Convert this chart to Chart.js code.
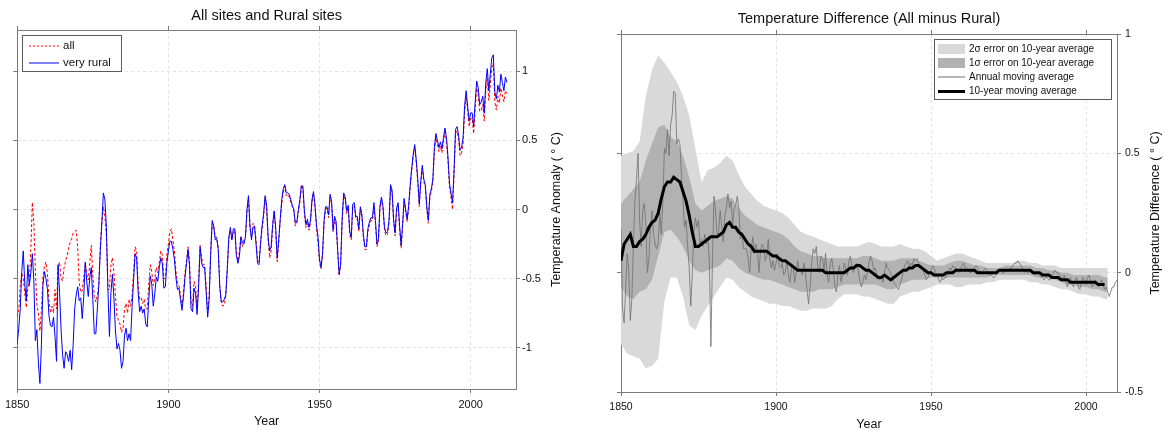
<!DOCTYPE html>
<html><head><meta charset="utf-8">
<script src="https://cdn.jsdelivr.net/npm/chart.js@4.4.0/dist/chart.umd.min.js"></script>
<style>
html,body{margin:0;padding:0;background:#fff;width:1165px;height:430px;overflow:hidden;}
#c1{position:absolute;left:0;top:0;}
#c2{position:absolute;left:580px;top:0;}
</style></head><body>
<canvas id="c1" width="580" height="430"></canvas>
<canvas id="c2" width="585" height="430"></canvas>
<script>
// ---------------- LEFT PANEL DATA (half-year samples from 1850.0) ----------------
const leftFirstYear = 1850;
const leftStep = 0.5;
const veryRuralValues = [
-0.97,-0.86,-0.72,-0.45,-0.30,-0.54,-0.66,-0.40,-0.55,-0.46,-0.32,-0.52,-0.95,-0.87,-1.11,-1.26,-0.98,-0.55,-0.45,-0.50,
-0.58,-0.77,-0.84,-0.85,-0.78,-0.92,-1.10,-0.40,-0.60,-0.87,-1.05,-1.15,-1.03,-1.05,-1.10,-1.02,-1.16,-0.98,-0.72,-0.62,
-0.56,-0.66,-0.64,-0.79,-0.63,-0.38,-0.52,-0.63,-0.49,-0.42,-0.65,-0.90,-0.90,-0.72,-0.54,-0.29,-0.09,0.12,0.07,-0.13,
-0.58,-0.92,-0.60,-0.47,-0.65,-0.88,-1.01,-0.97,-1.02,-1.15,-1.10,-0.91,-0.86,-0.95,-0.90,-0.95,-0.70,-0.51,-0.32,-0.35,
-0.60,-0.74,-0.70,-0.75,-0.72,-0.83,-0.85,-0.66,-0.48,-0.54,-0.70,-0.61,-0.49,-0.52,-0.42,-0.35,-0.39,-0.57,-0.56,-0.39,
-0.30,-0.23,-0.23,-0.29,-0.36,-0.49,-0.58,-0.57,-0.65,-0.73,-0.63,-0.49,-0.39,-0.29,-0.41,-0.72,-0.74,-0.57,-0.61,-0.76,
-0.56,-0.27,-0.39,-0.42,-0.42,-0.60,-0.78,-0.65,-0.32,-0.08,-0.12,-0.22,-0.21,-0.29,-0.56,-0.67,-0.67,-0.65,-0.62,-0.42,
-0.20,-0.13,-0.22,-0.14,-0.14,-0.33,-0.39,-0.34,-0.20,-0.24,-0.25,-0.20,0.00,0.10,-0.12,-0.22,-0.13,-0.12,-0.25,-0.39,
-0.40,-0.24,-0.12,-0.03,0.10,0.03,-0.20,-0.30,-0.27,-0.11,-0.01,-0.13,-0.35,-0.22,-0.07,0.07,0.15,0.18,0.12,0.12,
0.11,0.07,0.03,0.00,-0.10,-0.09,0.00,0.07,0.17,0.17,-0.01,-0.11,-0.07,-0.13,-0.08,0.07,0.13,0.03,-0.11,-0.20,
-0.36,-0.42,-0.32,-0.08,0.02,0.02,-0.04,0.11,0.06,-0.15,-0.05,-0.09,-0.29,-0.47,-0.39,-0.06,0.12,0.09,-0.01,0.03,
-0.16,-0.20,0.04,0.05,-0.05,-0.05,-0.14,0.02,-0.03,-0.18,-0.27,-0.27,-0.14,-0.09,-0.06,-0.06,0.05,-0.08,-0.25,-0.21,
0.03,0.09,0.02,-0.13,-0.17,-0.16,-0.08,0.18,0.14,-0.07,-0.17,0.01,0.05,-0.12,-0.26,-0.10,0.08,0.00,-0.07,0.03,
0.18,0.30,0.40,0.47,0.36,0.22,0.04,0.21,0.32,0.22,0.18,0.02,-0.08,0.11,0.15,0.22,0.45,0.55,0.50,0.45,
0.49,0.44,0.52,0.59,0.52,0.38,0.19,0.12,0.05,0.28,0.58,0.60,0.54,0.43,0.45,0.52,0.75,0.86,0.75,0.64,
0.70,0.70,0.60,0.78,0.93,0.88,0.76,0.78,0.82,0.70,0.92,1.02,0.86,0.98,1.10,1.12,0.85,0.80,0.90,0.85,
0.98,0.92,0.86,0.96,0.92
];
const allSitesValues = [
-0.78,-0.73,-0.55,-0.46,-0.50,-0.61,-0.71,-0.57,-0.52,-0.29,0.05,-0.10,-0.45,-0.69,-0.75,-0.88,-0.73,-0.49,-0.41,-0.38,
-0.47,-0.66,-0.75,-0.70,-0.75,-0.58,-0.72,-0.42,-0.38,-0.50,-0.52,-0.42,-0.37,-0.34,-0.28,-0.24,-0.21,-0.17,-0.16,-0.15,
-0.27,-0.53,-0.60,-0.59,-0.49,-0.39,-0.47,-0.51,-0.39,-0.26,-0.47,-0.63,-0.67,-0.62,-0.54,-0.25,-0.10,0.02,-0.05,-0.20,
-0.58,-0.58,-0.40,-0.35,-0.46,-0.63,-0.78,-0.80,-0.83,-0.89,-0.86,-0.72,-0.68,-0.75,-0.65,-0.70,-0.62,-0.45,-0.27,-0.30,
-0.55,-0.65,-0.64,-0.68,-0.65,-0.72,-0.72,-0.55,-0.40,-0.45,-0.55,-0.50,-0.42,-0.46,-0.38,-0.30,-0.33,-0.50,-0.50,-0.33,
-0.25,-0.16,-0.14,-0.22,-0.30,-0.45,-0.53,-0.55,-0.62,-0.70,-0.60,-0.46,-0.37,-0.27,-0.38,-0.68,-0.70,-0.52,-0.56,-0.72,
-0.52,-0.26,-0.35,-0.40,-0.40,-0.56,-0.75,-0.62,-0.30,-0.10,-0.12,-0.20,-0.20,-0.28,-0.55,-0.67,-0.70,-0.69,-0.62,-0.43,
-0.22,-0.15,-0.22,-0.17,-0.15,-0.33,-0.37,-0.30,-0.19,-0.27,-0.22,-0.20,-0.02,0.08,-0.13,-0.20,-0.10,-0.12,-0.22,-0.36,
-0.38,-0.25,-0.14,-0.05,0.08,0.01,-0.22,-0.35,-0.30,-0.12,-0.02,-0.16,-0.38,-0.24,-0.08,0.04,0.12,0.17,0.10,0.11,
0.09,0.05,0.02,-0.01,-0.12,-0.10,-0.02,0.05,0.18,0.15,-0.03,-0.13,-0.09,-0.15,-0.10,0.05,0.12,0.02,-0.14,-0.24,
-0.38,-0.43,-0.33,-0.10,0.00,0.01,-0.06,0.09,0.04,-0.16,-0.08,-0.11,-0.30,-0.48,-0.40,-0.08,0.10,0.07,-0.03,0.01,
-0.18,-0.22,0.02,0.03,-0.07,-0.07,-0.16,0.00,-0.05,-0.20,-0.29,-0.29,-0.16,-0.11,-0.08,-0.08,0.03,-0.10,-0.27,-0.23,
0.01,0.07,0.00,-0.15,-0.19,-0.18,-0.10,0.16,0.12,-0.09,-0.19,-0.01,0.03,-0.14,-0.28,-0.12,0.06,-0.02,-0.09,0.01,
0.16,0.28,0.38,0.45,0.34,0.20,0.02,0.19,0.30,0.20,0.16,0.00,-0.10,0.09,0.13,0.20,0.42,0.52,0.47,0.42,
0.46,0.41,0.49,0.56,0.49,0.35,0.16,0.09,0.00,0.25,0.55,0.57,0.50,0.39,0.41,0.48,0.71,0.82,0.71,0.60,
0.66,0.66,0.55,0.73,0.88,0.83,0.71,0.72,0.76,0.64,0.86,0.95,0.79,0.90,1.03,1.06,0.78,0.72,0.82,0.77,
0.88,0.83,0.78,0.86,0.84
];
const leftXTicks = [1850, 1900, 1950, 2000];
const leftXTickLabels = ['1850', '1900', '1950', '2000'];
const leftYTicks = [-1, -0.5, 0, 0.5, 1];
const leftYTickLabels = ['-1', '-0.5', '0', '0.5', '1'];
const leftLegendLabels = ['all', 'very rural'];

// ---------------- RIGHT PANEL DATA ----------------
const annualFirstYear = 1850, annualStep = 0.5;
const diffAnnualValues = [
0.19,-0.15,-0.21,-0.07,0.08,0.01,-0.20,-0.11,0.12,0.30,0.39,0.50,0.22,0.11,0.26,0.29,0.20,0.00,0.06,0.19,
0.26,0.16,0.12,0.10,0.12,0.25,0.16,0.30,0.52,0.50,0.60,0.49,0.62,0.66,0.76,0.75,0.54,0.56,0.54,0.41,
0.30,0.19,0.22,0.11,0.02,-0.14,0.00,0.17,0.23,0.19,0.22,0.12,0.14,0.11,0.16,0.12,0.15,0.05,-0.31,0.05,
0.32,0.26,0.15,0.17,0.26,0.19,0.13,0.24,0.27,0.33,0.27,0.30,0.20,0.27,0.28,0.32,0.27,0.14,0.17,0.10,
0.10,0.10,0.06,0.00,0.10,0.15,0.08,0.12,0.09,0.00,0.09,0.12,0.11,0.05,0.07,0.14,0.06,0.02,0.05,0.01,
0.04,0.08,0.03,0.02,0.04,-0.01,0.00,0.05,-0.01,-0.04,0.02,0.03,-0.04,0.00,0.05,0.01,0.01,-0.01,0.04,0.00,
-0.07,-0.13,-0.06,0.04,0.10,0.08,0.11,0.02,0.00,0.07,0.06,0.01,0.08,-0.01,-0.04,0.04,0.06,0.01,-0.06,-0.08,
0.00,0.03,-0.04,-0.01,0.04,0.02,-0.01,0.05,0.07,0.02,0.00,0.03,0.04,0.01,-0.03,-0.06,-0.04,-0.01,-0.03,0.00,
0.04,0.07,0.05,0.01,0.02,-0.01,-0.02,-0.03,-0.01,-0.04,0.00,0.04,0.02,0.01,0.00,-0.02,-0.04,-0.05,-0.06,-0.07,
-0.05,-0.03,0.00,0.03,0.04,0.05,0.02,0.04,0.03,0.06,0.05,0.06,0.04,0.03,0.03,0.01,-0.01,-0.03,-0.02,0.00,
0.01,0.03,0.02,0.00,-0.01,-0.03,-0.04,-0.02,-0.03,-0.02,-0.02,0.00,0.02,0.01,0.03,0.02,0.02,0.01,0.00,0.01,
0.03,0.04,0.02,0.02,0.01,0.00,0.00,0.01,0.02,0.03,0.02,0.01,0.00,0.00,0.01,0.02,0.01,0.00,-0.01,-0.01,
-0.02,-0.02,-0.01,0.00,0.01,0.01,0.00,0.00,0.01,0.01,0.01,0.02,0.02,0.03,0.04,0.04,0.05,0.04,0.03,0.02,
0.00,0.01,0.00,0.00,0.01,0.01,0.00,-0.01,0.00,0.00,-0.01,-0.02,-0.02,-0.03,-0.02,-0.02,-0.03,-0.03,-0.01,0.00,
0.01,0.00,0.00,-0.01,-0.02,-0.03,-0.01,-0.04,-0.06,-0.03,-0.02,-0.05,-0.06,-0.03,-0.02,-0.06,-0.07,-0.04,-0.02,-0.03,
-0.05,-0.02,-0.01,-0.04,-0.06,-0.05,-0.03,-0.04,-0.06,-0.05,-0.03,-0.05,-0.07,-0.06,-0.08,-0.10,-0.08,-0.06,-0.06,-0.04,
-0.03
];
const decadalFirstYear = 1850, decadalStep = 1;
const diffDecadalValues = [
0.05,0.12,0.14,0.16,0.11,0.11,0.13,0.14,0.16,0.19,
0.21,0.22,0.25,0.31,0.36,0.38,0.38,0.40,0.39,0.38,
0.34,0.30,0.24,0.17,0.11,0.11,0.12,0.13,0.14,0.15,
0.15,0.15,0.16,0.17,0.20,0.21,0.19,0.19,0.17,0.16,
0.14,0.12,0.11,0.09,0.09,0.09,0.09,0.09,0.08,0.07,
0.07,0.06,0.05,0.05,0.04,0.03,0.02,0.01,0.01,0.01,
0.01,0.01,0.01,0.01,0.01,0.01,0.00,0.00,0.00,0.00,
0.00,0.00,0.00,0.01,0.02,0.02,0.03,0.03,0.02,0.01,
0.01,0.00,-0.01,-0.02,-0.02,-0.01,-0.02,-0.03,-0.02,-0.01,
0.00,0.01,0.01,0.02,0.02,0.03,0.03,0.02,0.01,0.00,
0.00,-0.01,-0.01,-0.01,-0.01,0.00,0.00,0.00,0.01,0.01,
0.01,0.01,0.01,0.01,0.01,0.00,0.00,0.00,0.00,0.00,
0.00,0.00,0.01,0.01,0.01,0.01,0.01,0.01,0.01,0.01,
0.01,0.01,0.01,0.00,0.00,0.00,-0.01,-0.01,-0.01,-0.02,
-0.02,-0.02,-0.03,-0.03,-0.03,-0.04,-0.04,-0.04,-0.04,-0.04,
-0.04,-0.04,-0.04,-0.04,-0.05,-0.05,-0.05
];
const bandYears = [
1850,1852,1854,1856,1858,1860,1862,1864,1866,1868,1870,1872,1874,1876,1878,1880,1882,1884,1886,1888,
1890,1892,1894,1896,1898,1900,1902,1904,1906,1908,1910,1912,1914,1916,1918,1920,1922,1924,1926,1928,
1930,1932,1934,1936,1938,1940,1942,1944,1946,1948,1950,1952,1954,1956,1958,1960,1962,1964,1966,1968,
1970,1972,1974,1976,1978,1980,1982,1984,1986,1988,1990,1992,1994,1996,1998,2000,2002,2004,2006,2007
];
const band2Upper = [
0.49,0.50,0.51,0.55,0.74,0.85,0.91,0.88,0.84,0.80,0.74,0.66,0.52,0.38,0.43,0.44,0.46,0.49,0.47,0.41,
0.36,0.33,0.30,0.28,0.27,0.26,0.25,0.23,0.20,0.17,0.16,0.15,0.14,0.13,0.12,0.11,0.11,0.11,0.11,0.12,
0.13,0.12,0.11,0.11,0.11,0.12,0.11,0.10,0.10,0.09,0.07,0.05,0.06,0.07,0.08,0.08,0.07,0.06,0.05,0.04,
0.04,0.04,0.04,0.04,0.05,0.05,0.04,0.04,0.03,0.03,0.03,0.02,0.02,0.02,0.02,0.02,0.02,0.02,0.02,0.02
];
const band1Upper = [
0.29,0.32,0.35,0.38,0.47,0.54,0.61,0.62,0.57,0.55,0.49,0.40,0.29,0.26,0.28,0.30,0.31,0.32,0.31,0.27,
0.24,0.22,0.20,0.19,0.18,0.17,0.16,0.14,0.11,0.09,0.08,0.07,0.07,0.06,0.06,0.06,0.06,0.06,0.06,0.07,
0.07,0.06,0.05,0.05,0.05,0.06,0.06,0.06,0.05,0.04,0.03,0.03,0.03,0.04,0.05,0.05,0.04,0.03,0.03,0.02,
0.02,0.02,0.03,0.03,0.03,0.03,0.03,0.02,0.02,0.01,0.01,0.00,0.00,-0.01,-0.01,-0.01,-0.01,-0.01,-0.02,-0.02
];
const band1Lower = [
-0.06,-0.10,-0.11,-0.08,-0.07,-0.03,0.07,0.17,0.18,0.15,0.11,0.05,0.01,0.00,0.01,0.02,0.03,0.06,0.05,0.02,
0.00,-0.01,-0.02,-0.03,-0.03,-0.04,-0.05,-0.06,-0.07,-0.08,-0.08,-0.08,-0.07,-0.07,-0.07,-0.06,-0.05,-0.05,-0.05,-0.05,
-0.05,-0.05,-0.06,-0.07,-0.07,-0.05,-0.04,-0.03,-0.03,-0.03,-0.02,-0.02,-0.02,-0.02,-0.02,-0.02,-0.02,-0.02,-0.02,-0.02,
-0.01,-0.01,-0.01,-0.01,-0.01,-0.01,-0.01,-0.02,-0.02,-0.02,-0.03,-0.04,-0.05,-0.05,-0.06,-0.06,-0.07,-0.07,-0.08,-0.08
];
const band2Lower = [
-0.30,-0.34,-0.35,-0.36,-0.40,-0.39,-0.36,-0.12,-0.02,-0.02,-0.10,-0.22,-0.24,-0.18,-0.14,-0.10,-0.06,-0.02,-0.03,-0.06,
-0.08,-0.10,-0.11,-0.12,-0.13,-0.13,-0.14,-0.14,-0.15,-0.16,-0.16,-0.15,-0.15,-0.15,-0.14,-0.11,-0.09,-0.09,-0.09,-0.10,
-0.10,-0.11,-0.12,-0.13,-0.13,-0.10,-0.09,-0.08,-0.08,-0.07,-0.06,-0.05,-0.05,-0.05,-0.06,-0.06,-0.05,-0.05,-0.05,-0.04,
-0.04,-0.03,-0.03,-0.03,-0.03,-0.03,-0.04,-0.04,-0.05,-0.05,-0.06,-0.07,-0.07,-0.08,-0.09,-0.09,-0.10,-0.10,-0.11,-0.11
];
const rightXTicks = [1850, 1900, 1950, 2000];
const rightXTickLabels = ['1850', '1900', '1950', '2000'];
const rightYTicks = [-0.5, 0, 0.5, 1];
const rightYTickLabels = ['-0.5', '0', '0.5', '1'];
const rightLegendLabels = ['2\u03c3 error on 10-year average', '1\u03c3 error on 10-year average', 'Annual moving average', '10-year moving average'];

// ---------------- styles / helpers ----------------
const FONT = '"Liberation Sans", Arial, Helvetica, sans-serif';
const AXIS_COLOR = '#7a7a7a';
const GRID_COLOR = '#e2e2e2';
const TEXT_COLOR = '#111111';
const COLOR_ALL = '#ff0000';
const COLOR_RURAL = '#0000ff';
const COLOR_2S = '#d9d9d9';
const COLOR_1S = '#b2b2b2';
const COLOR_ANNUAL = '#6e6e6e';
const COLOR_DECADAL = '#000000';
Chart.defaults.font.family = FONT;

function seriesPoints(first, step, values) {
  return values.map((v, i) => ({x: first + i * step, y: v}));
}
function pairPoints(xs, ys) {
  return xs.map((x, i) => ({x: x, y: ys[i]}));
}
function axis(o) {
  return {
    type: 'linear', position: o.position, min: o.min, max: o.max,
    afterBuildTicks: (s) => { s.ticks = o.ticks.map(v => ({value: v})); },
    afterFit: (s) => { if (s.isHorizontal()) s.height = o.size; else s.width = o.size; },
    ticks: {
      display: !!o.labels, color: TEXT_COLOR,
      font: {family: FONT, size: o.fontSize || 10},
      padding: o.pad || 0, maxRotation: 0, minRotation: 0, autoSkip: false,
      callback: (v, i) => (o.labels ? o.labels[i] : '')
    },
    grid: {
      display: true, drawOnChartArea: !!o.grid, drawTicks: true, tickLength: o.tickLen,
      color: (c) => { const v = c.tick ? c.tick.value : null; return (v === o.min || v === o.max) ? 'rgba(0,0,0,0)' : GRID_COLOR; },
      tickColor: AXIS_COLOR, tickWidth: 1, lineWidth: 1
    },
    border: {display: true, color: AXIS_COLOR, width: 1, dash: [3, 3]}
  };
}

const decor = {
  id: 'decor',
  afterDraw(chart, args, o) {
    const ctx = chart.ctx, a = chart.chartArea;
    ctx.save();
    ctx.fillStyle = TEXT_COLOR;
    ctx.textAlign = 'center'; ctx.textBaseline = 'middle';
    ctx.font = o.titleSize + 'px ' + FONT;
    ctx.fillText(o.title, (a.left + a.right) / 2, a.top - o.titleGap);
    ctx.font = o.axisSize + 'px ' + FONT;
    ctx.fillText(o.xTitle, (a.left + a.right) / 2, a.bottom + o.xTitleGap);
    ctx.save();
    ctx.translate(a.right + o.yTitleGap, (a.top + a.bottom) / 2);
    ctx.rotate(-Math.PI / 2);
    ctx.font = o.yTitleSize + 'px ' + FONT;
    ctx.fillText(o.yTitle, 0, 0);
    ctx.restore();
    const L = o.legend;
    ctx.fillStyle = '#ffffff';
    ctx.fillRect(L.x, L.y, L.w, L.h);
    ctx.strokeStyle = L.border; ctx.lineWidth = 1; ctx.setLineDash([]);
    ctx.strokeRect(L.x + 0.5, L.y + 0.5, L.w, L.h);
    ctx.font = L.size + 'px ' + FONT;
    ctx.textAlign = 'left';
    L.items.forEach((it, i) => {
      const yy = Math.round(L.y + L.firstRow + i * L.rowGap);
      if (it.kind === 'box') {
        ctx.fillStyle = it.color;
        ctx.fillRect(L.x + L.swX, yy - L.swH / 2, L.swW, L.swH);
      } else {
        ctx.save();
        ctx.strokeStyle = it.color;
        ctx.lineWidth = it.width;
        ctx.setLineDash(it.dash || []);
        const ly = yy + (it.offset || 0);
        ctx.beginPath();
        ctx.moveTo(L.x + L.swX, ly);
        ctx.lineTo(L.x + L.swX + L.swW, ly);
        ctx.stroke();
        ctx.restore();
      }
      ctx.fillStyle = TEXT_COLOR;
      ctx.fillText(it.text, L.x + L.textX, yy);
    });
    ctx.restore();
  }
};

const common = {
  responsive: false, devicePixelRatio: 1, animation: false,
  layout: {padding: 0},
  elements: {point: {radius: 0, hoverRadius: 0}, line: {tension: 0}},
  plugins: {legend: {display: false}, tooltip: {enabled: false}, title: {display: false}}
};

// ---------------- LEFT CHART ----------------
new Chart(document.getElementById('c1'), {
  type: 'line',
  data: {datasets: [
    {label: leftLegendLabels[1], data: seriesPoints(leftFirstYear, leftStep, veryRuralValues),
     borderColor: COLOR_RURAL, borderWidth: 1, fill: false, order: 0},
    {label: leftLegendLabels[0], data: seriesPoints(leftFirstYear, leftStep, allSitesValues),
     borderColor: COLOR_ALL, borderWidth: 1, borderDash: [3, 2], fill: false, order: 1}
  ]},
  options: Object.assign({}, common, {
    scales: {
      x: axis({position: 'bottom', min: 1850, max: 2015, ticks: leftXTicks, labels: leftXTickLabels, size: 41, grid: true, tickLen: 4, pad: 5, fontSize: 11}),
      xTop: axis({position: 'top', min: 1850, max: 2015, ticks: leftXTicks, size: 30, grid: false, tickLen: 4}),
      y: axis({position: 'right', min: -1.3, max: 1.3, ticks: leftYTicks, labels: leftYTickLabels, size: 64, grid: true, tickLen: 4, pad: 2, fontSize: 11}),
      yLeft: axis({position: 'left', min: -1.3, max: 1.3, ticks: leftYTicks, size: 17, grid: false, tickLen: 4})
    },
    plugins: Object.assign({}, common.plugins, {
      decor: {
        title: 'All sites and Rural sites', titleSize: 14.5, titleGap: 14,
        xTitle: 'Year', axisSize: 12.5, xTitleGap: 33,
        yTitle: 'Temperature Anomaly ( \u00b0 C)', yTitleSize: 12.5, yTitleGap: 41,
        legend: {x: 22, y: 35, w: 99, h: 36, border: '#5a5a5a', size: 11.5,
          firstRow: 10.7, rowGap: 17.6, swX: 7, swW: 30, swH: 8, textX: 41,
          items: [{text: leftLegendLabels[0], kind: 'line', color: COLOR_ALL, width: 1, dash: [2, 2], offset: 0},
                  {text: leftLegendLabels[1], kind: 'line', color: COLOR_RURAL, width: 1, offset: 0}]}
      }
    })
  }),
  plugins: [decor]
});

// ---------------- RIGHT CHART ----------------
new Chart(document.getElementById('c2'), {
  type: 'line',
  data: {datasets: [
    {label: rightLegendLabels[3], data: seriesPoints(decadalFirstYear, decadalStep, diffDecadalValues),
     borderColor: COLOR_DECADAL, borderWidth: 3, fill: false, order: 0},
    {label: rightLegendLabels[2], data: seriesPoints(annualFirstYear, annualStep, diffAnnualValues),
     borderColor: COLOR_ANNUAL, borderWidth: 0.8, fill: false, order: 1},
    {label: rightLegendLabels[1], data: pairPoints(bandYears, band1Upper),
     borderColor: 'rgba(0,0,0,0)', borderWidth: 0, backgroundColor: COLOR_1S, fill: '+1', order: 2},
    {label: '1s lower', data: pairPoints(bandYears, band1Lower),
     borderColor: 'rgba(0,0,0,0)', borderWidth: 0, fill: false, order: 2},
    {label: rightLegendLabels[0], data: pairPoints(bandYears, band2Upper),
     borderColor: 'rgba(0,0,0,0)', borderWidth: 0, backgroundColor: COLOR_2S, fill: '+1', order: 4},
    {label: '2s lower', data: pairPoints(bandYears, band2Lower),
     borderColor: 'rgba(0,0,0,0)', borderWidth: 0, fill: false, order: 4}
  ]},
  options: Object.assign({}, common, {
    scales: {
      x: axis({position: 'bottom', min: 1850, max: 2010, ticks: rightXTicks, labels: rightXTickLabels, size: 38, grid: true, tickLen: 4, pad: 5, fontSize: 10.5}),
      xTop: axis({position: 'top', min: 1850, max: 2010, ticks: rightXTicks, size: 34, grid: false, tickLen: 4}),
      y: axis({position: 'right', min: -0.5, max: 1, ticks: rightYTicks, labels: rightYTickLabels, size: 48, grid: true, tickLen: 4, pad: 4, fontSize: 10.5}),
      yLeft: axis({position: 'left', min: -0.5, max: 1, ticks: rightYTicks, size: 41, grid: false, tickLen: 4})
    },
    plugins: Object.assign({}, common.plugins, {
      decor: {
        title: 'Temperature Difference (All minus Rural)', titleSize: 14.5, titleGap: 15,
        xTitle: 'Year', axisSize: 12.5, xTitleGap: 33,
        yTitle: 'Temperature Difference ( \u00b0 C)', yTitleSize: 12.5, yTitleGap: 39,
        legend: {x: 354, y: 39, w: 177, h: 60, border: '#5a5a5a', size: 10,
          firstRow: 10.3, rowGap: 13.9, swX: 4, swW: 27, swH: 10, textX: 35,
          items: [{text: rightLegendLabels[0], kind: 'box', color: COLOR_2S},
                  {text: rightLegendLabels[1], kind: 'box', color: COLOR_1S},
                  {text: rightLegendLabels[2], kind: 'line', color: COLOR_ANNUAL, width: 1, offset: 0},
                  {text: rightLegendLabels[3], kind: 'line', color: COLOR_DECADAL, width: 3, offset: 0.5}]}
      }
    })
  }),
  plugins: [decor]
});
</script>
</body></html>
